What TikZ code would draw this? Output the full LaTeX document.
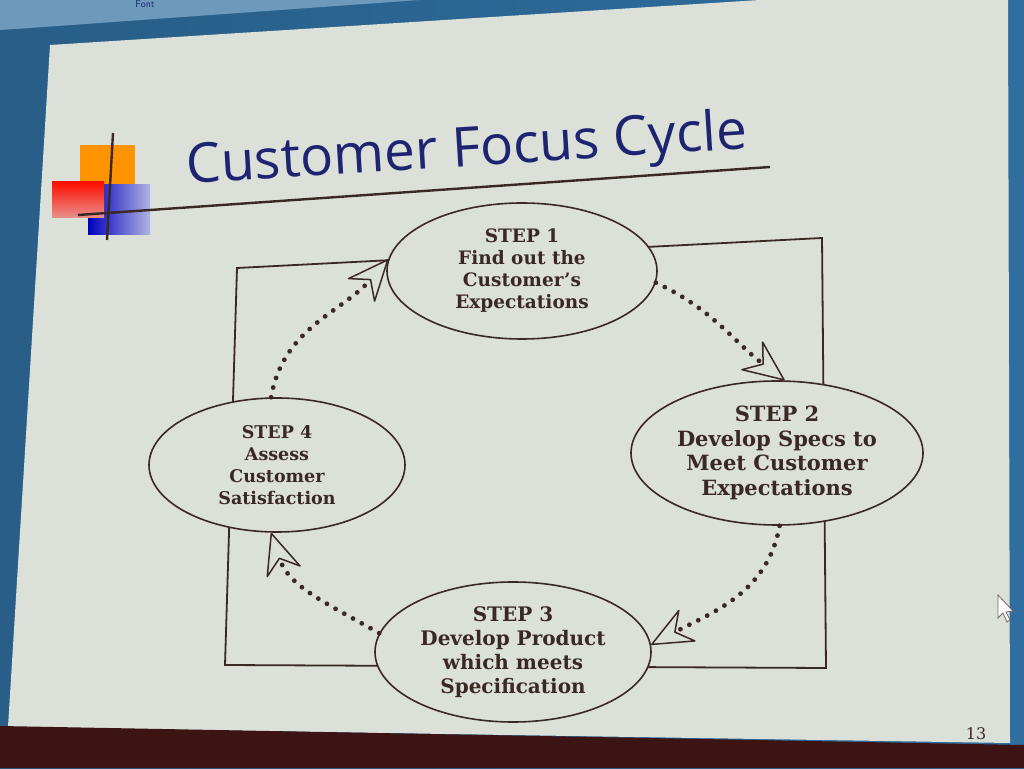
\documentclass[tikz,border=0pt]{standalone}
\usepackage{fontspec}
\setmainfont{DejaVu Serif}
\newfontfamily\titlefont{Open Sans}
\usetikzlibrary{arrows.meta,shapes.geometric}
\definecolor{slide}{HTML}{DBE0D9}
\definecolor{lc}{HTML}{3A2824}
\definecolor{navy}{HTML}{1E2470}
\definecolor{bgblue}{HTML}{2F6E9F}
\definecolor{strip}{HTML}{3C1414}
\tikzset{
  stepbox/.style={ellipse, draw=lc, line width=1.6pt, fill=slide, inner sep=0pt,
    align=center, text=lc},
  cyc/.style={draw=lc, line width=4.8pt, line cap=round, dash pattern=on 0pt off 10pt,
    -{Stealth[length=44pt,width=38pt,inset=15pt,line width=1.5pt,fill=slide,round]}},
  frame/.style={draw=lc, line width=1.8pt}
}
\begin{document}
\begin{tikzpicture}[x=1pt,y=1pt]
\useasboundingbox (0,0) rectangle (1024,768);
% background outside the slide
\fill[left color=bgblue!85!black, right color=bgblue] (0,0) rectangle (1024,768);
\fill[bgblue!70!white] (0,768) -- (420,768) -- (30,740) -- (0,738) -- cycle;
\node[font=\sffamily\fontsize{10}{10}\selectfont, text=navy] (fontlbl) at (145,764) {Font};
% slide
\fill[slide] (50,723) -- (760,768) -- (1008,768) -- (1010,25) -- (8,41) -- cycle;
% dark bottom strip
\fill[strip] (0,0) -- (0,42) -- (1024,23) -- (1024,0) -- cycle;
% logo
\fill[orange!85!yellow] (80,570) rectangle (135,623);
\shade[left color=blue!75!black, right color=blue!20!slide] (88,533) rectangle (150,583);
\shade[top color=red!90!orange, bottom color=red!35!slide] (52,550) rectangle (104,586);
\draw[lc, line width=2.4pt] (113,635) -- (107,528);
\draw[lc, line width=2.4pt] (78,553) -- (770,601);
% title
\node[font=\titlefont\fontsize{55}{55}\selectfont, text=navy, rotate=3.6, anchor=base west]
  (title) at (184,584) {Customer Focus Cycle};
% frame
\draw[frame] (237,500) -- (822,530) -- (826,100) -- (225,103) -- cycle;
% steps
\node[stepbox, minimum width=270pt, minimum height=136pt,
  font=\bfseries\fontsize{18.5}{22}\selectfont] (s1) at (522,497)
  {STEP 1\\Find out the\\Customer's\\Expectations};
\node[stepbox, minimum width=292pt, minimum height=144pt,
  font=\bfseries\fontsize{21}{24.5}\selectfont] (s2) at (777,315)
  {STEP 2\\Develop Specs to\\Meet Customer\\Expectations};
\node[stepbox, minimum width=276pt, minimum height=140pt,
  font=\bfseries\fontsize{20}{24}\selectfont] (s3) at (513,116)
  {STEP 3\\Develop Product\\which meets\\Specification};
\node[stepbox, minimum width=256pt, minimum height=134pt,
  font=\bfseries\fontsize{17.5}{22}\selectfont] (s4) at (277,303)
  {STEP 4\\Assess\\Customer\\Satisfaction};
% cycle arrows
\draw[cyc] (s1.-5) to[out=-25, in=143] (s2.84);
\draw[cyc] (s2.-88) to[out=-100, in=28] (s3.3);
\draw[cyc] (s3.172) to[out=150, in=-72] (s4.-95);
\draw[cyc] (s4.95) to[out=80, in=229] (s1.175);
% slide number
\node[font=\fontsize{16}{16}\selectfont, text=lc] (num) at (976,34) {13};
% mouse pointer
\draw[lc!70, line width=0.8pt, fill=white!90!slide] (998,173) -- (998,150) -- (1003,155) -- (1007,146)
  -- (1010,148) -- (1006,156) -- (1013,157) -- cycle;
\end{tikzpicture}
\end{document}
